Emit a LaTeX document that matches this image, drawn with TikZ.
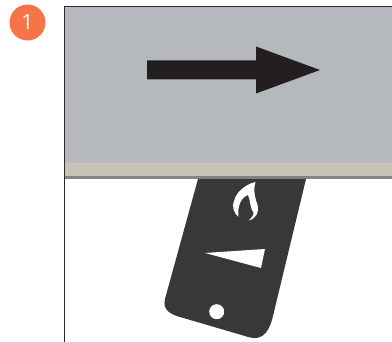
\documentclass[tikz,border=0pt]{standalone}
\usepackage{fontspec}
\setmainfont{Open Sans}
\definecolor{panelgray}{HTML}{B5B8BC}
\definecolor{panelbeige}{HTML}{C6C4B6}
\definecolor{paneledge}{HTML}{7E868D}
\definecolor{framedark}{HTML}{2B2B2D}
\definecolor{tagdark}{HTML}{383838}
\definecolor{arrowdark}{HTML}{231F20}
\definecolor{badgeorange}{HTML}{F7734A}
\tikzset{
  badge/.style={circle,fill=badgeorange,text=white,inner sep=0pt,minimum size=36pt,font=\fontsize{21}{25}\selectfont},
  cutout/.style={fill=white,draw=none},
}
\begin{document}
\begin{tikzpicture}[x=1pt, y=-1pt, line join=round]

  %% panel
  \fill[panelgray] (64,6) rectangle (392,163.5);
  \fill[panelbeige] (64,163) rectangle (392,176);
  \fill[paneledge] (64,176) rectangle (392,179);

  %% tag hanging under the panel
  \fill[tagdark] (198,179) -- (306,179) -- (273,316)
    .. controls (270,329) and (264,341) .. (250,337.5)
    -- (180,317) .. controls (169,314) and (162.5,309) .. (165,299) -- cycle;
  \fill[cutout] (255.5,182) .. controls (253,190) and (255,198) .. (257.5,205)
    .. controls (259.5,212) and (256,219) .. (248.5,220.5)
    .. controls (252,217.5) and (254,214.5) .. (253.5,212.5)
    .. controls (250,209) and (250.5,200) .. (248,195)
    .. controls (242,197) and (237,205) .. (238.5,217)
    .. controls (233,212) and (232,206) .. (234,201)
    .. controls (236,192) and (246,184) .. cycle;
  \fill[cutout] (205,253) -- (265,249) -- (261,268) -- cycle;
  \fill[cutout] (216.7,311.7) circle (7.5);

  %% frame
  \draw[framedark,line width=1.6pt] (64.6,342) -- (64.6,6.6) -- (392,6.6);

  %% arrow
  \fill[arrowdark] (147,60.5) -- (256,60.5) -- (256,46.5) -- (320,70) -- (256,93.5) -- (256,79.5) -- (147,79.5) -- cycle;

  %% number
  \node[badge] (stepone) at (27.5,22.5) {1};

  \pgfresetboundingbox
  \path[use as bounding box] (0,0) rectangle (392,342);
\end{tikzpicture}
\end{document}
